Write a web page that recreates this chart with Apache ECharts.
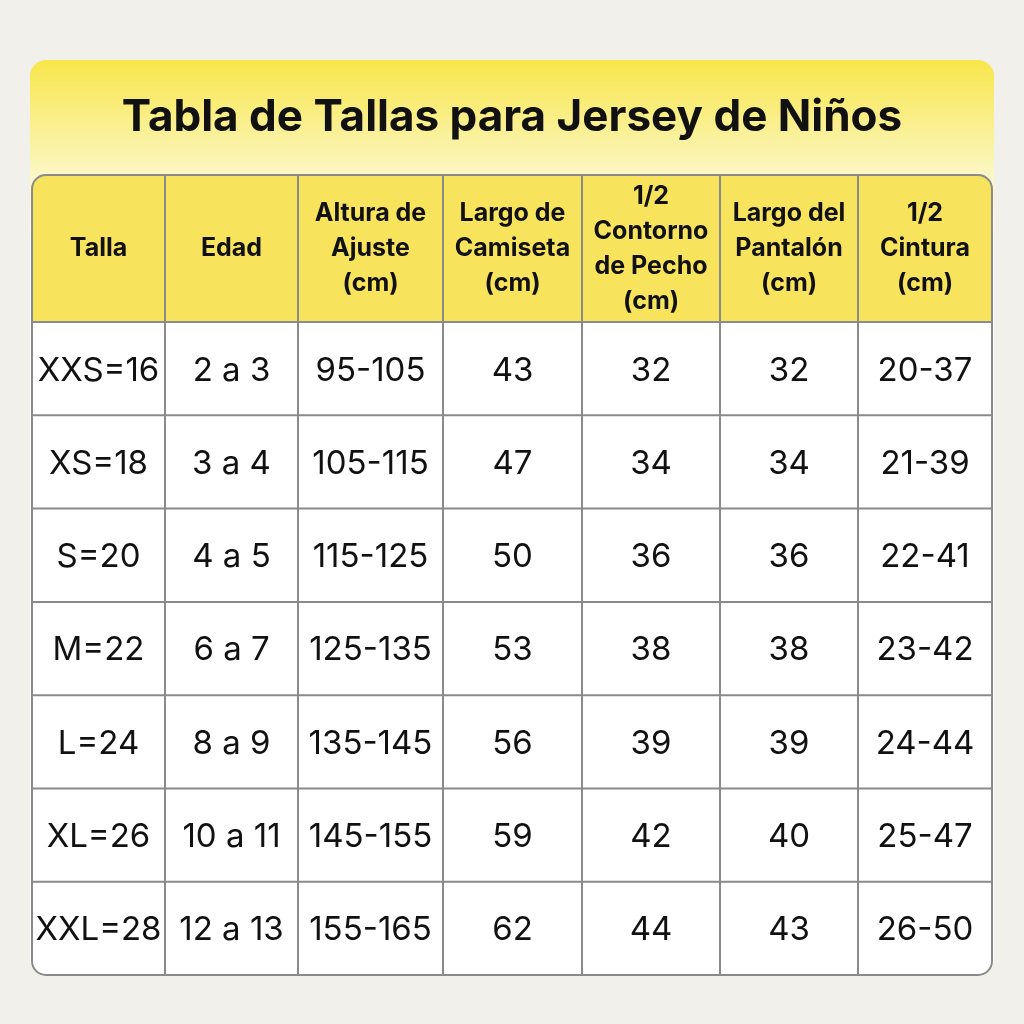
<!DOCTYPE html>
<html><head><meta charset="utf-8">
<script src="https://cdn.jsdelivr.net/npm/echarts@6/dist/echarts.min.js"></script>
<style>html,body{margin:0;background:#f2f0eb}#c{width:1024px;height:1024px}</style>
</head><body><div id="c"></div>
<script>
const title = 'Tabla de Tallas para Jersey de Niños';
const headers = ['Talla','Edad','Altura de\nAjuste\n(cm)','Largo de\nCamiseta\n(cm)','1/2\nContorno\nde Pecho\n(cm)','Largo del\nPantalón\n(cm)','1/2\nCintura\n(cm)'];
const talla = ['XXS=16','XS=18','S=20','M=22','L=24','XL=26','XXL=28'];
const edad = ['2 a 3','3 a 4','4 a 5','6 a 7','8 a 9','10 a 11','12 a 13'];
const altura = ['95-105','105-115','115-125','125-135','135-145','145-155','155-165'];
const largoCamiseta = [43,47,50,53,56,59,62];
const pecho = [32,34,36,38,39,42,44];
const largoPantalon = [32,34,36,38,39,40,43];
const cintura = ['20-37','21-39','22-41','23-42','24-44','25-47','26-50'];
const columns = [talla,edad,altura,largoCamiseta,pecho,largoPantalon,cintura];

const colX = [32,165,298,443,582,720,858,992];
const top0 = 175, headH = 147, rowH = 93.3, bottom = 975;
const g = [];
g.push({type:'rect',shape:{x:30,y:60,width:964,height:915,r:16},style:{fill:new echarts.graphic.LinearGradient(0,0,0,1,[{offset:0,color:'#f8e64a'},{offset:0.13,color:'#fbf7c8'},{offset:0.2,color:'#ffffff'},{offset:1,color:'#ffffff'}])}});
g.push({type:'text',x:512,y:118,style:{text:title,font:'bold 44px Inter, "Open Sans", sans-serif',fill:'#111',align:'center',verticalAlign:'middle'}});
g.push({type:'rect',shape:{x:32,y:top0,width:960,height:headH,r:[14,14,0,0]},style:{fill:'#f7e35c'}});
for(let c=0;c<7;c++){
  const cx=(colX[c]+colX[c+1])/2;
  g.push({type:'text',x:cx,y:top0+headH/2,style:{text:headers[c],font:'bold 25px Inter, "Open Sans", sans-serif',lineHeight:35,fill:'#111',align:'center',verticalAlign:'middle'}});
  for(let r=0;r<7;r++){
    g.push({type:'text',x:cx,y:top0+headH+rowH*(r+0.5)+2,style:{text:String(columns[c][r]),font:'33px Inter, "Open Sans", sans-serif',fill:'#111',align:'center',verticalAlign:'middle'}});
  }
}
for(let i=1;i<7;i++) g.push({type:'line',shape:{x1:colX[i],y1:top0,x2:colX[i],y2:bottom},style:{stroke:'#8a8a8a',lineWidth:2}});
for(let r=0;r<7;r++){const y=top0+headH+rowH*r;g.push({type:'line',shape:{x1:32,y1:y,x2:992,y2:y},style:{stroke:'#8a8a8a',lineWidth:2}});}
g.push({type:'rect',shape:{x:32,y:top0,width:960,height:bottom-top0,r:14},style:{fill:null,stroke:'#8a8a8a',lineWidth:2}});
const chart=echarts.init(document.getElementById('c'));
chart.setOption({backgroundColor:'#f2f0eb',graphic:g});
</script></body></html>
